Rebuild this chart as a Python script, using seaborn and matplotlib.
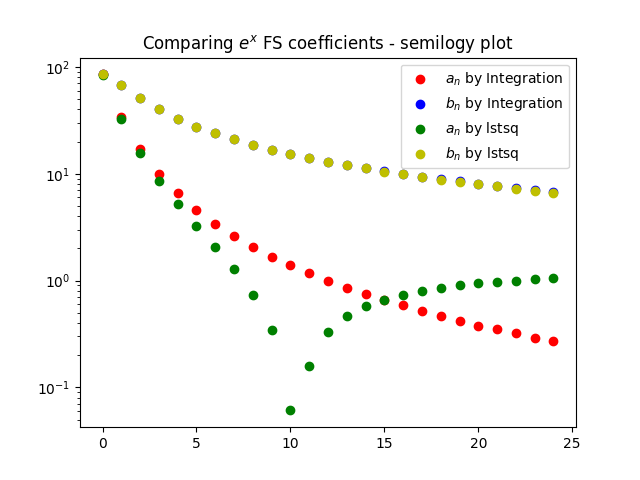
import matplotlib
matplotlib.use("Agg")
import matplotlib.pyplot as plt
import seaborn as sns
import pandas as pd

n_index = list(range(25))

a_integration = [85.05, 34.02, 17.01, 10.01, 6.54, 4.60, 3.40, 2.62, 2.08, 1.68,
                 1.41, 1.18, 1.00, 0.86, 0.75, 0.66, 0.59, 0.52, 0.47, 0.42,
                 0.38, 0.35, 0.32, 0.29, 0.27]
b_integration = [85.05, 68.04, 51.03, 40.02, 32.71, 27.59, 23.81, 20.94, 18.68, 16.84,
                 15.34, 14.08, 13.01, 12.09, 11.28, 10.59, 9.97, 9.42, 8.93, 8.48,
                 8.08, 7.71, 7.38, 7.08, 6.79]
a_lstsq = [84.0, 32.6, 15.6, 8.55, 5.2, 3.26, 2.07, 1.28, 0.73, 0.345,
           0.061, 0.159, 0.33, 0.47, 0.58, 0.655, 0.734, 0.80, 0.855, 0.91,
           0.95, 0.97, 1.0, 1.03, 1.06]
b_lstsq = [85.05, 68.04, 51.03, 40.02, 32.71, 27.59, 23.81, 20.94, 18.68, 16.84,
           15.34, 14.08, 13.01, 12.09, 11.25, 10.4, 9.95, 9.37, 8.8, 8.45,
           8.05, 7.66, 7.25, 6.93, 6.65]

labels = [r'$a_n$ by Integration', r'$b_n$ by Integration',
          r'$a_n$ by lstsq', r'$b_n$ by lstsq']
colors = ['r', 'b', 'g', 'y']
series = [a_integration, b_integration, a_lstsq, b_lstsq]

fig, ax = plt.subplots(figsize=(6.4, 4.8), dpi=100)
for vals, lab, col in zip(series, labels, colors):
    df = pd.DataFrame({'n': n_index, 'v': vals})
    sns.scatterplot(data=df, x='n', y='v', color=col, s=36, edgecolor=col,
                    linewidth=1, label=lab, ax=ax)
ax.set_yscale('log')
ax.set_xlabel('')
ax.set_ylabel('')
ax.set_title(r'Comparing $e^x$ FS coefficients - semilogy plot')
ax.legend(loc='upper right', scatterpoints=1)
fig.savefig('out.png', dpi=100)
